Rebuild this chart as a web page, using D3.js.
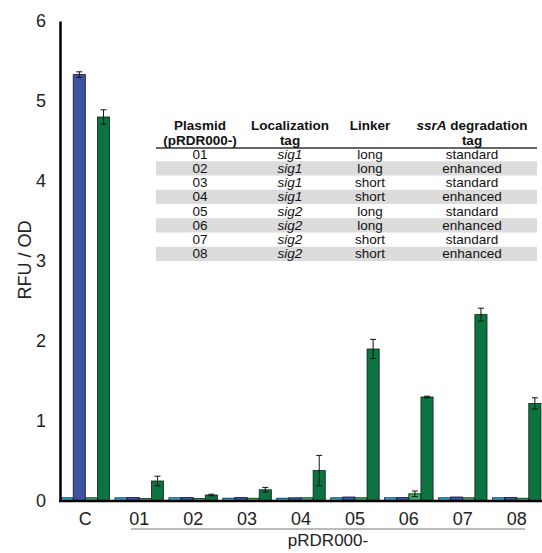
<!DOCTYPE html>
<html><head><meta charset="utf-8">
<script src="https://cdn.jsdelivr.net/npm/d3@7"></script>
<style>body{margin:0;background:#fff}svg{display:block}text{font-family:"Liberation Sans",Arial,sans-serif}</style>
</head><body><svg id="c" width="542" height="553"></svg>
<script>
const groups = ["C","01","02","03","04","05","06","07","08"];
const seriesNames = ["s1","s2","s3","s4"];
const seriesColors = ["#2aaee0","#3d52a3","#3ba96a","#0b7440"];
const s1 = [0.04,0.04,0.04,0.035,0.035,0.04,0.04,0.04,0.04];
const s2 = [5.33,0.045,0.045,0.045,0.04,0.05,0.045,0.05,0.045];
const s3 = [0.04,0.03,0.03,0.035,0.04,0.04,0.09,0.04,0.035];
const s4 = [4.80,0.25,0.075,0.14,0.38,1.90,1.30,2.33,1.22];
const e1 = [0,0,0,0,0,0,0,0,0];
const e2 = [0.035,0,0,0,0,0,0,0,0];
const e3 = [0,0,0,0,0,0,0.035,0,0];
const e4 = [0.09,0.06,0.01,0.03,0.19,0.12,0.01,0.08,0.07];
const yTicks = [0,1,2,3,4,5,6];
const tableHeader = [["Plasmid","(pRDR000-)"],["Localization","tag"],["Linker",""],["ssrA degradation","tag"]];
const tPlasmid = ["01","02","03","04","05","06","07","08"];
const tLoc = ["sig1","sig1","sig1","sig1","sig2","sig2","sig2","sig2"];
const tLinker = ["long","long","short","short","long","long","short","short"];
const tTag = ["standard","enhanced","standard","enhanced","standard","enhanced","standard","enhanced"];

const svg = d3.select("#c");
const vals = [s1,s2,s3,s4], errs = [e1,e2,e3,e4];
const x = d3.scaleBand().domain(groups).range([60,542]).paddingInner(0.1).paddingOuter(0.02);
const xs = d3.scaleBand().domain(seriesNames).range([0,x.bandwidth()]);
const y = d3.scaleLinear().domain([0,6]).range([501,21]);

groups.forEach((g,gi)=>{
  seriesNames.forEach((s,si)=>{
    const v = vals[si][gi], e = errs[si][gi];
    const bx = x(g)+xs(s);
    svg.append("rect").attr("x",bx).attr("y",y(v)).attr("width",xs.bandwidth()).attr("height",y(0)-y(v))
      .attr("fill",seriesColors[si]).attr("stroke","#1a1a1a").attr("stroke-width",0.8);
    if(e>0){
      const cx = bx+xs.bandwidth()/2;
      svg.append("line").attr("x1",cx).attr("x2",cx).attr("y1",y(v+e)).attr("y2",y(v-e)).attr("stroke","#111").attr("stroke-width",1);
      [v+e,v-e].forEach(t=>svg.append("line").attr("x1",cx-3).attr("x2",cx+3).attr("y1",y(t)).attr("y2",y(t)).attr("stroke","#111").attr("stroke-width",1));
    }
  });
});

const yAxis = svg.append("g").attr("transform","translate(60,0)").call(d3.axisLeft(y).tickValues(yTicks).tickSize(0).tickPadding(14).tickFormat(d3.format("d")));
yAxis.select(".domain").attr("stroke","#000").attr("stroke-width",2.5);
yAxis.selectAll("text").attr("font-size",18).attr("fill","#222");
svg.append("line").attr("x1",59).attr("x2",542).attr("y1",501).attr("y2",501).attr("stroke","#000").attr("stroke-width",2.5);

const xAxis = svg.append("g").attr("transform","translate(0,501)").call(d3.axisBottom(x).tickSize(0).tickPadding(11));
xAxis.select(".domain").remove();
xAxis.selectAll("text").attr("font-size",18).attr("fill","#222");

svg.append("line").attr("x1",131).attr("x2",525).attr("y1",529).attr("y2",529).attr("stroke","#777").attr("stroke-width",1);
svg.append("text").attr("x",328).attr("y",546).attr("text-anchor","middle").attr("font-size",17).attr("fill","#222").text("pRDR000-");
svg.append("text").attr("transform","translate(31,260) rotate(-90)").attr("text-anchor","middle").attr("font-size",18).attr("fill","#222").text("RFU / OD");

const colX = [200,290,370,472];
const rowY = d3.scaleBand().domain(tPlasmid).range([147,261]);
const tbl = svg.append("g");
tPlasmid.forEach((p,i)=>{
  if(i%2===1) tbl.append("rect").attr("x",156).attr("width",381).attr("y",rowY(p)).attr("height",rowY.bandwidth()).attr("fill","#dcdcdc");
});
tbl.append("line").attr("x1",156).attr("x2",537).attr("y1",148).attr("y2",148).attr("stroke","#333").attr("stroke-width",1.5);
tableHeader.forEach((h,i)=>{
  const t = tbl.append("text").attr("x",colX[i]).attr("y",130).attr("text-anchor","middle").attr("font-size",13.5).attr("font-weight","bold").attr("fill","#111");
  if(i===3){ t.append("tspan").attr("font-style","italic").text("ssrA"); t.append("tspan").text(" degradation"); }
  else t.text(h[0]);
  if(h[1]) tbl.append("text").attr("x",colX[i]).attr("y",144.5).attr("text-anchor","middle").attr("font-size",13.5).attr("font-weight","bold").attr("fill","#111").text(h[1]);
});
const cols = [tPlasmid,tLoc,tLinker,tTag];
cols.forEach((col,ci)=>{
  col.forEach((v,ri)=>{
    tbl.append("text").attr("x",colX[ci]).attr("y",rowY(tPlasmid[ri])+rowY.bandwidth()/2+4.5).attr("text-anchor","middle")
      .attr("font-size",13.5).attr("fill","#111").attr("font-style",ci===1?"italic":"normal").text(v);
  });
});
</script></body></html>
